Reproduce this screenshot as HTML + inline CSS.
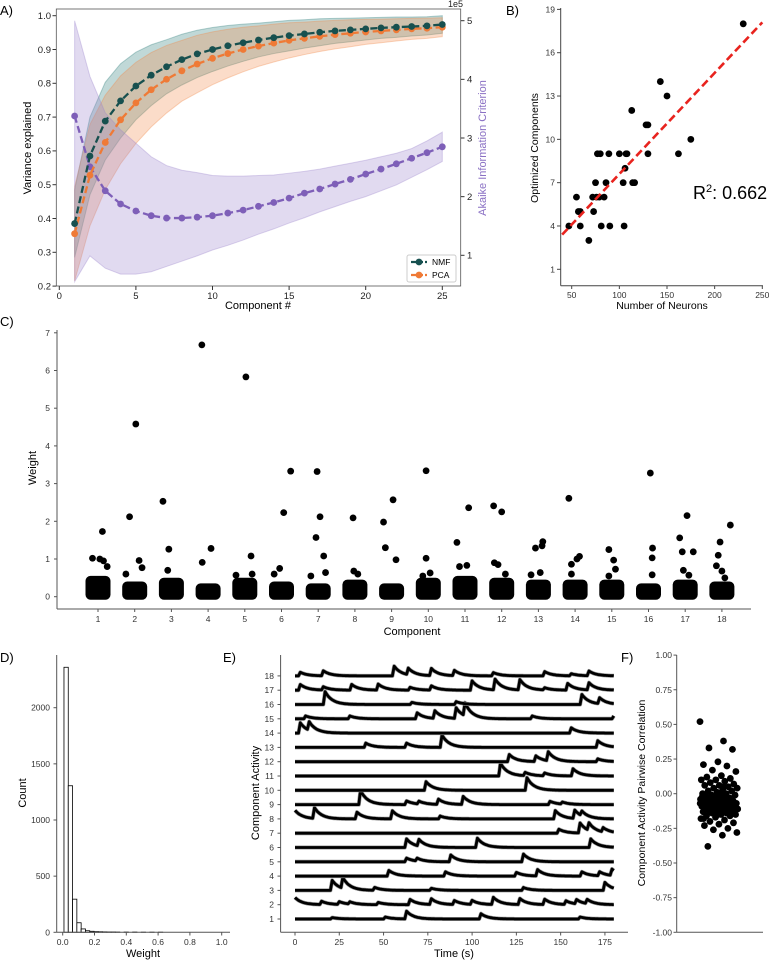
<!DOCTYPE html>
<html><head><meta charset="utf-8"><style>
html,body{margin:0;padding:0;background:#fff;}
svg{display:block;font-family:"Liberation Sans",Arial,sans-serif;}
.n{font-family:"Liberation Sans Narrow","Liberation Sans",sans-serif;}
</style></head><body>
<svg id="fig" width="770" height="960" viewBox="0 0 770 960" xmlns="http://www.w3.org/2000/svg">
<text x="0" y="15" font-size="13">A)</text>
<text x="506" y="15" font-size="13">B)</text>
<text x="0" y="326" font-size="13">C)</text>
<text x="0" y="662" font-size="13">D)</text>
<text x="223" y="662" font-size="13">E)</text>
<text x="621" y="662" font-size="13">F)</text>
</svg>
<script>
// ---------- Panel A data ----------
const compsA=[1,2,3,4,5,6,7,8,9,10,11,12,13,14,15,16,17,18,19,20,21,22,23,24,25];
const nmfMean=[0.385,0.585,0.688,0.748,0.792,0.824,0.849,0.870,0.887,0.900,0.911,0.920,0.928,0.935,0.941,0.946,0.951,0.955,0.958,0.961,0.964,0.966,0.968,0.970,0.974];
const nmfSd=[0.10,0.115,0.115,0.11,0.10,0.09,0.08,0.075,0.07,0.065,0.06,0.055,0.05,0.047,0.045,0.042,0.04,0.037,0.035,0.033,0.031,0.03,0.028,0.027,0.026];
const pcaMean=[0.355,0.528,0.625,0.692,0.742,0.781,0.812,0.837,0.857,0.874,0.888,0.900,0.910,0.919,0.927,0.933,0.939,0.944,0.948,0.952,0.955,0.958,0.961,0.963,0.966];
const pcaSd=[0.14,0.15,0.14,0.13,0.12,0.11,0.10,0.09,0.085,0.078,0.072,0.066,0.06,0.056,0.052,0.048,0.045,0.042,0.04,0.037,0.035,0.033,0.031,0.03,0.028];
const aicMean=[3.375,2.51,2.10,1.875,1.755,1.675,1.635,1.635,1.65,1.675,1.72,1.77,1.835,1.90,1.975,2.06,2.13,2.215,2.295,2.385,2.47,2.56,2.655,2.75,2.85];
const aicHi=[5.0,4.05,3.43,3.14,2.91,2.68,2.53,2.45,2.41,2.36,2.35,2.35,2.36,2.37,2.40,2.43,2.47,2.52,2.57,2.62,2.68,2.74,2.82,2.95,3.1];
const aicLo=[0.55,0.99,0.78,0.68,0.68,0.72,0.81,0.90,0.99,1.09,1.17,1.26,1.36,1.45,1.55,1.64,1.74,1.83,1.92,2.00,2.10,2.20,2.33,2.46,2.6];
const xTicksA=[0,5,10,15,20,25];
const yTicksA=[0.2,0.3,0.4,0.5,0.6,0.7,0.8,0.9,1.0];
const yTicksAR=[1,2,3,4,5];
// ---------- Panel B data ----------
const neurons=[47,55,57,59,59,68,72,73,75,76,77,79,80,81,84,86,89,90,100,104,105,106,107,108,113,114,116,128,130,130,143,150,162,175,230];
const optComps=[4,6,5,5,4,3,6,5,7,6,9,6,9,4,6,7,9,4,9,7,4,8,9,9,12,7,7,11,11,9,14,13,9,10,18];
const fitSlope=[0.07];
const fitIntercept=[0.6];
const xTicksB=[50,100,150,200,250];
const yTicksB=[1,4,7,10,13,16,19];
// ---------- Panel C data ----------
const compsC=[1,2,3,4,5,6,7,8,9,10,11,12,13,14,15,16,17,18];
const clusterTop=[0.5,0.35,0.45,0.3,0.45,0.35,0.3,0.4,0.3,0.45,0.5,0.45,0.4,0.4,0.4,0.3,0.4,0.35];
const outComp=[1,1,1,1,1,2,2,2,2,2,3,3,3,4,4,4,5,5,5,5,6,6,6,6,7,7,7,7,7,7,8,8,8,9,9,9,9,10,10,10,10,11,11,11,11,12,12,12,12,12,13,13,13,13,13,14,14,14,14,14,15,15,15,15,16,16,16,16,17,17,17,17,17,17,18,18,18,18,18,18];
const outOffset=[0.12,-0.15,0.05,0.15,0.25,0.03,-0.14,0.12,-0.24,0.2,-0.23,-0.07,-0.1,-0.17,0.08,-0.16,0.03,0.17,-0.24,0.2,0.25,0.06,-0.05,-0.2,-0.03,0.05,-0.06,0.15,0.2,-0.2,-0.05,-0.03,0.08,-0.22,0.04,-0.17,0.12,-0.06,-0.06,0.05,-0.15,-0.22,0.1,-0.15,0.05,-0.22,0,-0.2,-0.1,0.1,-0.08,0.1,0.12,0.05,-0.2,-0.17,0.12,0.05,-0.1,-0.1,-0.08,0.05,0.1,-0.08,0.05,0.11,0.1,0.1,-0.15,-0.08,0.22,0.05,-0.05,0.1,0.23,-0.05,-0.15,-0.1,0,0.08];
const outWeight=[1.73,1.02,1.0,0.95,0.8,4.58,2.12,0.96,0.6,0.77,2.53,1.26,0.7,6.68,1.28,0.91,5.83,1.08,0.57,0.6,3.33,2.23,0.75,0.6,3.32,2.12,1.57,1.08,0.64,0.55,2.09,0.68,0.6,1.98,2.57,1.3,0.98,3.34,1.02,0.63,0.55,1.44,2.36,0.8,0.83,2.41,2.25,0.9,0.85,0.6,1.29,1.35,1.46,0.64,0.58,2.61,1.07,1.0,0.86,0.6,1.25,0.97,0.73,0.55,3.28,1.29,1.03,0.58,1.56,1.19,1.19,2.15,0.7,0.57,1.9,1.45,0.82,1.1,0.68,0.5];
const yTicksC=[0,1,2,3,4,5,6,7];
// ---------- Panel D data ----------
const binStart=[0.008,0.035,0.062,0.089,0.116,0.143,0.17,0.197,0.224,0.251,0.278,0.305,0.332,0.386,0.44,0.494,0.548,0.602];
const binCount=[2360,1305,295,85,30,14,9,6,5,4,3,3,2,2,2,1,1,1];
const xTicksD=[0,0.2,0.4,0.6,0.8,1.0];
const yTicksD=[0,500,1000,1500,2000];
// ---------- Panel E data ----------
const evComp=[18,18,18,18,18,18,18,18,18,18, 17,17,17,17,17,17,17,17,17,17,17,17, 16,16,16,16,16, 15,15,15,15,15,15,15,15, 14,14,14, 13,13,13,13, 12,12,12,12, 11,11,11,11, 10,10, 9,9,9,9,9,9,9, 8,8,8,8,8,8,8,8, 7,7,7,7, 6,6,6,6, 5,5,5,5, 4,4,4,4,4,4,4, 3,3,3,3,3,3, 2,2,2,2,2,2,2,2,2,2,2,2,2,2,2, 1,1,1,1,1];
const evTime=[2,15,55,63,76,89,111,140,155,165, 2,15,31,46,64,76,99,112,126,140,153,165, 16,65,90,161,171, 5,30,68,78,90,95,133,179, 2,7,155, 39,62,82,170, 120,135,142,170, 115,129,140,156, 73,130, 36,62,69,80,94,143,150, -1,10,34,54,81,146,157,161, 148,160,165,173, 62,69,102,166, 62,68,87,128, 52,84,124,136,161,171,178, 20,26,44,76,128,174, -1,14,24,30,46,64,76,89,99,111,126,140,152,158,164, 20,50,62,104,160];
const evAmp=[0.25,0.35,0.68,0.45,0.5,0.37,0.23,0.3,0.15,0.33, 0.4,0.23,0.4,0.42,0.2,0.3,0.65,0.75,0.72,0.15,0.47,0.5, 0.9,0.15,0.2,0.7,0.42, 0.2,0.2,0.42,0.53,0.75,0.9,0.2,0.2, 0.72,0.6,0.37, 0.3,0.3,0.86,0.47, 0.5,0.4,0.63,0.2, 0.9,0.23,0.2,0.5, 0.6,0.88, 0.98,0.26,0.2,0.37,0.56,0.23,0.14, 0.6,0.75,0.47,0.56,0.2,0.58,0.58,0.33, 0.28,0.7,0.53,0.3, 0.6,0.47,0.65,0.6, 0.26,0.2,0.47,0.54, 0.4,0.3,0.26,0.44,0.3,0.28,0.44, 0.7,0.75,0.2,0.15,0.2,0.56, 0.5,0.23,0.2,0.16,0.16,0.37,0.4,0.28,0.28,0.5,0.42,0.37,0.26,0.3,0.3, 0.1,0.14,0.54,0.37,0.14];
const xTicksE=[0,25,50,75,100,125,150,175];
const yTicksE=[1,2,3,4,5,6,7,8,9,10,11,12,13,14,15,16,17,18];
// ---------- Panel F data ----------
const pairCorr=[0.52,0.38,0.33,0.32,0.23,0.21,0.20,0.17,0.16,0.13,0.12,0.11,0.10,0.10,0.09,0.08,0.07,0.06,0.06,0.05,0.04,0.04,0.03,0.02,0.02,0.01,0.00,0.00,-0.01,-0.01,-0.02,-0.02,-0.03,-0.03,-0.04,-0.04,-0.05,-0.05,-0.05,-0.06,-0.06,-0.07,-0.07,-0.07,-0.08,-0.08,-0.08,-0.09,-0.09,-0.09,-0.10,-0.10,-0.10,-0.11,-0.11,-0.11,-0.12,-0.12,-0.12,-0.13,-0.13,-0.14,-0.14,-0.15,-0.15,-0.16,-0.16,-0.17,-0.18,-0.19,-0.20,-0.21,-0.22,-0.23,-0.25,-0.26,-0.28,-0.30,-0.38,-0.06,-0.04,-0.02,-0.08,-0.10,-0.12,0.00,-0.05,-0.09,-0.11,-0.07,0.05,-0.03,-0.13,-0.15,-0.18];
const yTicksF=[1,0.75,0.5,0.25,0,-0.25,-0.5,-0.75,-1];

const NS='http://www.w3.org/2000/svg';
const svg=document.getElementById('fig');
function mk(tag,attrs,parent){const e=document.createElementNS(NS,tag);for(const k in attrs)e.setAttribute(k,attrs[k]);(parent||svg).appendChild(e);return e;}
function txt(s,x,y,attrs,parent){const t=mk('text',Object.assign({x:x,y:y},attrs||{}),parent);t.textContent=s;return t;}
function group(name){const g=mk('g',{});
return g;}
function name(e,n){
return e;}

// ================= Panel A =================
(function(){
const g=group('panel-a-variance-chart');
const xA=v=>59.3+v*15.32, yA=v=>15.7+(1-v)*338, yR=v=>20.7+(5-v)*58.65;
function band(lo,hi,sc,fill,n){let d='';compsA.forEach((c,i)=>{d+=(i?'L':'M')+xA(c)+','+sc(hi[i]);});
for(let i=compsA.length-1;i>=0;i--)d+='L'+xA(compsA[i])+','+sc(lo[i]);
const p=mk('path',{d:d+'Z',fill:fill,'fill-opacity':0.3,stroke:fill,'stroke-opacity':0.35},g);name(p,n);}
band(nmfMean.map((m,i)=>m-nmfSd[i]),nmfMean.map((m,i)=>Math.min(1.0,m+nmfSd[i])),yA,'#2e7d7a','nmf-band');
band(pcaMean.map((m,i)=>m-pcaSd[i]),pcaMean.map((m,i)=>Math.min(1.0,m+pcaSd[i])),yA,'#f28a4b','pca-band');
band(aicLo,aicHi,yR,'#9b85cc','aic-band');
function series(vals,sc,col,n){const pts=compsA.map((c,i)=>xA(c)+','+sc(vals[i])).join(' ');
const l=mk('polyline',{points:pts,fill:'none',stroke:col,'stroke-width':2.3,'stroke-dasharray':'7,3.5'},g);name(l,n+'-line');
compsA.forEach((c,i)=>{const d=mk('circle',{cx:xA(c),cy:sc(vals[i]),r:3.4,fill:col},g);

});}
series(aicMean,yR,'#7e5fb8','aic');
series(pcaMean,yA,'#ef7a36','pca');
series(nmfMean,yA,'#17504f','nmf');
const box=mk('rect',{x:56.3,y:9,width:404.4,height:277,fill:'none',stroke:'#555','stroke-width':0.8},g);name(box,'panel-a-frame');
xTicksA.forEach(v=>{mk('line',{x1:xA(v),x2:xA(v),y1:286,y2:290,stroke:'#333'},g);
const t=txt(String(v),xA(v),299,{'font-size':9.5,'text-anchor':'middle',fill:'#222'},g);name(t,'x-tick-label');});
yTicksA.forEach(v=>{mk('line',{x1:56.3,x2:52.5,y1:yA(v),y2:yA(v),stroke:'#333'},g);
const t=txt(v.toFixed(1),51,yA(v)+3.3,{'font-size':9.5,'text-anchor':'end',fill:'#222'},g);name(t,'y-tick-label');});
yTicksAR.forEach(v=>{mk('line',{x1:460.7,x2:464.5,y1:yR(v),y2:yR(v),stroke:'#333'},g);
const t=txt(String(v),467,yR(v)+3.3,{'font-size':9.5,fill:'#222'},g);name(t,'right-y-tick-label');});
name(txt('1e5',448,7,{'font-size':9,fill:'#222'},g),'right-axis-scale');
name(txt('Variance explained',0,0,{'font-size':11,'text-anchor':'middle',transform:'translate(31,148) rotate(-90)'},g),'y-axis-title');
name(txt('Akaike Information Criterion',0,0,{'font-size':11,'text-anchor':'middle',fill:'#8a70c4',transform:'translate(486,148) rotate(-90)'},g),'right-y-axis-title');
name(txt('Component #',258,309,{'font-size':11,'text-anchor':'middle'},g),'x-axis-title');
const lg=group('legend');g.appendChild(lg);
mk('rect',{x:407,y:255,width:49,height:27,rx:2,fill:'#fff','fill-opacity':0.85,stroke:'#ccc'},lg);
[['NMF','#17504f',262],['PCA','#ef7a36',275]].forEach(e=>{
mk('line',{x1:411,x2:427,y1:e[2],y2:e[2],stroke:e[1],'stroke-width':2.3,'stroke-dasharray':'5,2'},lg);
mk('circle',{cx:419,cy:e[2],r:3.4,fill:e[1]},lg);
const t=txt(e[0],432,e[2]+3.2,{'font-size':8.5},lg);

});
})();

// ================= Panel B =================
(function(){
const g=group('panel-b-scatter');
const xB=v=>571.7+(v-50)*0.953, yB=v=>269.3-(v-1)*14.44;
name(mk('line',{x1:560.7,x2:560.7,y1:8,y2:285.7,stroke:'#444'},g),'y-axis');
name(mk('line',{x1:560.7,x2:763,y1:285.7,y2:285.7,stroke:'#444'},g),'x-axis');
yTicksB.forEach(v=>{mk('line',{x1:560.7,x2:557,y1:yB(v),y2:yB(v),stroke:'#444'},g);
name(txt(String(v),555,yB(v)+3,{'font-size':8.5,'text-anchor':'end',fill:'#333'},g),'y-tick-label');});
xTicksB.forEach(v=>{mk('line',{x1:xB(v),x2:xB(v),y1:285.7,y2:289,stroke:'#444'},g);
name(txt(String(v),xB(v),298,{'font-size':8.5,'text-anchor':'middle',fill:'#333'},g),'x-tick-label');});
neurons.forEach((n,i)=>{const d=mk('circle',{cx:xB(n),cy:yB(optComps[i]),r:3.4,fill:'#000'},g);

});
const f=x=>fitSlope[0]*x+fitIntercept[0];
name(mk('line',{x1:xB(40),y1:yB(f(40)),x2:xB(250),y2:yB(f(250)),stroke:'#e8231e','stroke-width':2.6,'stroke-dasharray':'8,4'},g),'regression-line');
const r=txt('',693,199,{'font-size':18},g);r.innerHTML='R<tspan dy="-7" font-size="11">2</tspan><tspan dy="7">: 0.662</tspan>';name(r,'r-squared-annotation');
name(txt('Optimized Components',0,0,{'font-size':10.5,'text-anchor':'middle',transform:'translate(538,148) rotate(-90)'},g),'y-axis-title');
name(txt('Number of Neurons',662,309,{'font-size':10.5,'text-anchor':'middle'},g),'x-axis-title');
})();

// ================= Panel C =================
(function(){
const g=group('panel-c-weights');
const xC=v=>98+(v-1)*36.7, yC=v=>596.7-v*37.7;
name(mk('line',{x1:57,x2:57,y1:330,y2:609,stroke:'#555'},g),'y-axis');
name(mk('line',{x1:57,x2:751,y1:609,y2:609,stroke:'#555'},g),'x-axis');
yTicksC.forEach(v=>{mk('line',{x1:57,x2:54,y1:yC(v),y2:yC(v),stroke:'#555'},g);
name(txt(String(v),50,yC(v)+3,{'font-size':8.5,'text-anchor':'end',class:'n',fill:'#333'},g),'y-tick-label');});
compsC.forEach((c,i)=>{mk('line',{x1:xC(c),x2:xC(c),y1:609,y2:612,stroke:'#555'},g);
name(txt(String(c),xC(c),622,{'font-size':8.5,'text-anchor':'middle',class:'n',fill:'#333'},g),'x-tick-label');
const b=mk('rect',{x:xC(c)-12.5,y:yC(clusterTop[i])-2,width:25,height:yC(0)-yC(clusterTop[i])+5,rx:5,fill:'#000'},g);

});
outComp.forEach((c,i)=>{const d=mk('circle',{cx:xC(c+outOffset[i]),cy:yC(outWeight[i]),r:3.4,fill:'#000'},g);

});
name(txt('Component',412,635,{'font-size':11,'text-anchor':'middle',class:'n'},g),'x-axis-title');
name(txt('Weight',0,0,{'font-size':11,'text-anchor':'middle',class:'n',transform:'translate(36,468) rotate(-90)'},g),'y-axis-title');
})();

// ================= Panel D =================
(function(){
const g=group('panel-d-histogram');
const xD=v=>62.7+v*159, yD=v=>932.3-v*0.1123;
binStart.forEach((s,i)=>{const r=mk('rect',{x:xD(s),y:yD(binCount[i]),width:0.027*159,height:yD(0)-yD(binCount[i]),fill:'#fff',stroke:'#000','stroke-width':0.8},g);

});
name(mk('line',{x1:56.7,x2:56.7,y1:655,y2:932.3,stroke:'#555'},g),'y-axis');
name(mk('line',{x1:56.7,x2:230,y1:932.3,y2:932.3,stroke:'#555'},g),'x-axis');
yTicksD.forEach(v=>{mk('line',{x1:56.7,x2:53.5,y1:yD(v),y2:yD(v),stroke:'#555'},g);
name(txt(String(v),50,yD(v)+3,{'font-size':8.5,'text-anchor':'end',class:'n',fill:'#333'},g),'y-tick-label');});
xTicksD.forEach(v=>{mk('line',{x1:xD(v),x2:xD(v),y1:932.3,y2:935.5,stroke:'#555'},g);
name(txt(v.toFixed(1),xD(v),945,{'font-size':8.5,'text-anchor':'middle',class:'n',fill:'#333'},g),'x-tick-label');});
name(txt('Count',0,0,{'font-size':11,'text-anchor':'middle',transform:'translate(26,793) rotate(-90)'},g),'y-axis-title');
name(txt('Weight',143,957,{'font-size':11,'text-anchor':'middle',class:'n'},g),'x-axis-title');
})();

// ================= Panel E =================
(function(){
const g=group('panel-e-traces');
const xE=t=>295+t*1.771, yE=v=>919-(v-1)*14.3;
name(mk('line',{x1:280.6,x2:280.6,y1:655,y2:932.3,stroke:'#555'},g),'y-axis');
name(mk('line',{x1:280.6,x2:628,y1:932.3,y2:932.3,stroke:'#555'},g),'x-axis');
yTicksE.forEach(v=>{mk('line',{x1:280.6,x2:277.5,y1:yE(v),y2:yE(v),stroke:'#555'},g);
name(txt(String(v),274,yE(v)+3,{'font-size':8.5,'text-anchor':'end',class:'n',fill:'#333'},g),'y-tick-label');});
xTicksE.forEach(v=>{mk('line',{x1:xE(v),x2:xE(v),y1:932.3,y2:935.5,stroke:'#555'},g);
name(txt(String(v),xE(v),945,{'font-size':8.5,'text-anchor':'middle',class:'n',fill:'#333'},g),'x-tick-label');});
yTicksE.forEach(k=>{let d='';
for(let t=0;t<=180;t+=0.5){let v=k;
evComp.forEach((c,i)=>{if(c!==k)return;const dt=t-evTime[i];if(dt<0)return;
v+=dt<1?evAmp[i]*dt:evAmp[i]*Math.exp(-(dt-1)/4);});
d+=(t?'L':'M')+xE(t).toFixed(1)+','+yE(v).toFixed(1);}
mk('path',{d:d,fill:'none',stroke:'#999','stroke-width':4,'stroke-linejoin':'round'},g);
const p=mk('path',{d:d,fill:'none',stroke:'#000','stroke-width':2.8,'stroke-linejoin':'round'},g);

});
name(txt('Time (s)',454,957,{'font-size':11,'text-anchor':'middle',class:'n'},g),'x-axis-title');
name(txt('Component Activity',0,0,{'font-size':11,'text-anchor':'middle',transform:'translate(259,793) rotate(-90)'},g),'y-axis-title');
})();

// ================= Panel F =================
(function(){
const g=group('panel-f-correlation');
const yF=v=>793.7-v*138.6;
name(mk('line',{x1:676.7,x2:676.7,y1:655,y2:932.3,stroke:'#555'},g),'y-axis');
name(mk('line',{x1:676.7,x2:763,y1:932.3,y2:932.3,stroke:'#555'},g),'x-axis');
yTicksF.forEach(v=>{mk('line',{x1:676.7,x2:673.5,y1:yF(v),y2:yF(v),stroke:'#555'},g);
name(txt(v.toFixed(2),672,yF(v)+3,{'font-size':8.5,'text-anchor':'end',fill:'#333'},g),'y-tick-label');});
pairCorr.forEach((v,i)=>{const j=((i*0.6180339)%1)*38-19;
const d=mk('circle',{cx:719+j,cy:yF(v),r:3.4,fill:'#000'},g);

});
name(txt('Component Activity Pairwise Correlation',0,0,{'font-size':10.5,'text-anchor':'middle',transform:'translate(645,793) rotate(-90)'},g),'y-axis-title');
})();
</script>
</body></html>
